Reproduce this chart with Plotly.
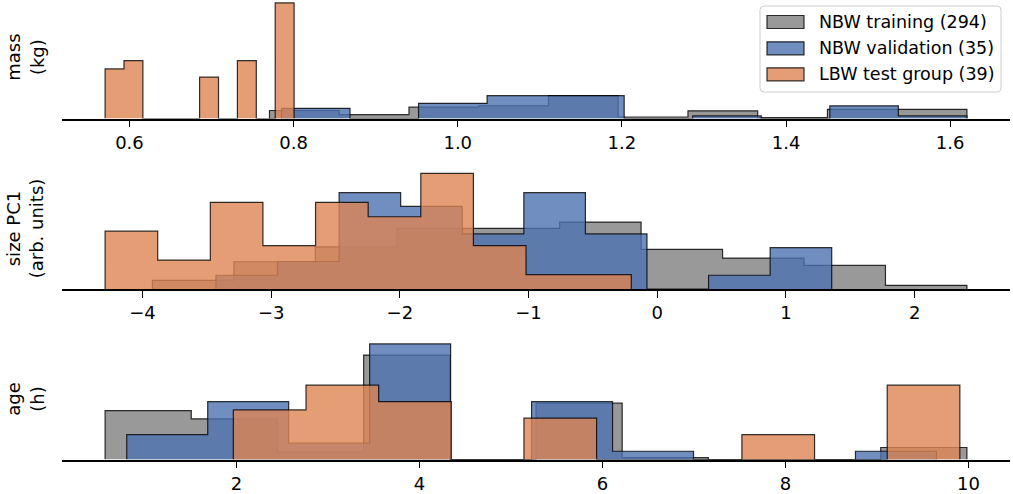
import numpy as np
import plotly.graph_objects as go

W, H = 1013, 494

# ---------------- data ----------------
series_names = ["NBW training (294)", "NBW validation (35)", "LBW test group (39)"]
series_n = [294, 35, 39]

# mass (kg): bin range (first edge, last edge) and counts per bin (10 bins)
mass_train_range = [0.7706, 1.6204]
mass_valid_range = [0.7852, 1.6204]
mass_lbw_range = [0.5703, 0.8006]
mass_train_counts = [27, 13, 38, 43, 77, 5, 26, 3, 31, 31]
mass_valid_counts = [4, 0, 6, 9, 9, 0, 1, 0, 5, 1]
mass_lbw_counts = [6, 7, 0, 0, 0, 5, 0, 7, 0, 14]

# size PC1 (arb. units)
size_train_range = [-3.9229, 2.4065]
size_valid_range = [-3.4291, 1.3559]
size_lbw_range = [-4.2905, -0.2017]
size_train_counts = [7, 22, 34, 49, 49, 54, 32, 25, 19, 3]
size_valid_counts = [1, 2, 7, 6, 4, 7, 4, 0, 1, 3]
size_lbw_counts = [4, 2, 6, 3, 6, 5, 8, 3, 1, 1]

# age (h)
age_train_range = [0.5657, 9.982]
age_valid_range = [0.8022, 9.649]
age_lbw_range = [1.967, 9.905]
age_train_counts = [53, 44, 8, 113, 0, 61, 2, 0, 0, 13]
age_valid_counts = [3, 7, 2, 14, 0, 7, 1, 0, 0, 1]
age_lbw_counts = [6, 9, 7, 0, 5, 0, 0, 3, 0, 9]

mass_ticks = [0.6, 0.8, 1.0, 1.2, 1.4, 1.6]
mass_ticktext = ["0.6", "0.8", "1.0", "1.2", "1.4", "1.6"]
size_ticks = [-4, -3, -2, -1, 0, 1, 2]
size_ticktext = ["\u22124", "\u22123", "\u22122", "\u22121", "0", "1", "2"]
age_ticks = [2, 4, 6, 8, 10]
age_ticktext = ["2", "4", "6", "8", "10"]

panel_titles = ["mass<br>(kg)", "size PC1<br>(arb. units)", "age<br>(h)"]

# ---------------- style ----------------
FONT = "DejaVu Sans"
FS = 18
FS_LEG = 17.5
fill_colors = ["rgba(128,128,128,0.8)", "rgba(76,114,176,0.8)", "rgba(221,132,82,0.8)"]
edge_color = "rgba(0,0,0,0.8)"

panels = [
    dict(ranges=[mass_train_range, mass_valid_range, mass_lbw_range],
         counts=[mass_train_counts, mass_valid_counts, mass_lbw_counts],
         ticks=mass_ticks, ticktext=mass_ticktext, base_px=118.5),
    dict(ranges=[size_train_range, size_valid_range, size_lbw_range],
         counts=[size_train_counts, size_valid_counts, size_lbw_counts],
         ticks=size_ticks, ticktext=size_ticktext, base_px=289.0),
    dict(ranges=[age_train_range, age_valid_range, age_lbw_range],
         counts=[age_train_counts, age_valid_counts, age_lbw_counts],
         ticks=age_ticks, ticktext=age_ticktext, base_px=459.5),
]
AXES_H = 121.4
X0_PX, X1_PX = 62, 1010


def step_xy(rng, counts, n):
    edges = np.linspace(rng[0], rng[1], len(counts) + 1)
    width = edges[1] - edges[0]
    dens = np.asarray(counts, dtype=float) / (n * width)
    x = np.concatenate([[edges[0]], edges[:-1], [edges[-1]]])
    y = np.concatenate([[0.0], dens, [0.0]])
    return x, y, dens.max()


fig = go.Figure()
layout = dict()
for p, panel in enumerate(panels):
    k = "" if p == 0 else str(p + 1)
    maxd = 0
    for s in range(3):
        x, y, m = step_xy(panel["ranges"][s], panel["counts"][s], series_n[s])
        maxd = max(maxd, m)
        fig.add_trace(go.Scatter(
            x=x, y=y, mode="lines", line_shape="hv", fill="toself",
            fillcolor=fill_colors[s], line=dict(color=edge_color, width=1.2),
            xaxis="x" + k, yaxis="y" + k, showlegend=False, hoverinfo="skip"))
    lo = min(r[0] for r in panel["ranges"])
    hi = max(r[1] for r in panel["ranges"])
    pad = 0.05 * (hi - lo)
    base = panel["base_px"]
    top_px = max(base - AXES_H, 0.0)
    ytop = 1.05 * maxd * (base - top_px) / AXES_H
    layout["xaxis" + k] = dict(
        domain=[X0_PX / W, X1_PX / W], range=[lo - pad, hi + pad],
        anchor="y" + k, showline=True, linecolor="black", linewidth=1.6,
        showgrid=False, zeroline=False, ticks="outside", ticklen=7,
        tickwidth=1.4, tickcolor="black", tickvals=panel["ticks"],
        ticktext=panel["ticktext"], tickfont=dict(family=FONT, size=FS, color="black"),
        fixedrange=True)
    layout["yaxis" + k] = dict(
        domain=[1 - base / H, 1 - top_px / H], range=[0, ytop], anchor="x" + k,
        visible=False, fixedrange=True)
    fig.add_annotation(
        text=panel_titles[p], xref="paper", yref="paper", x=25 / W,
        y=1 - (base - AXES_H / 2) / H, textangle=-90, showarrow=False,
        xanchor="center", yanchor="middle",
        font=dict(family=FONT, size=FS, color="black"))

# ---------------- legend (manual) ----------------
shapes = []
lx0, lx1, ly0, ly1, rad = 760, 1001, 6, 92, 4


def px(xp):
    return xp / W


def py(yp):
    return 1 - yp / H


path = (f"M {px(lx0+rad)},{py(ly0)} L {px(lx1-rad)},{py(ly0)} "
        f"Q {px(lx1)},{py(ly0)} {px(lx1)},{py(ly0+rad)} "
        f"L {px(lx1)},{py(ly1-rad)} Q {px(lx1)},{py(ly1)} {px(lx1-rad)},{py(ly1)} "
        f"L {px(lx0+rad)},{py(ly1)} Q {px(lx0)},{py(ly1)} {px(lx0)},{py(ly1-rad)} "
        f"L {px(lx0)},{py(ly0+rad)} Q {px(lx0)},{py(ly0)} {px(lx0+rad)},{py(ly0)} Z")
shapes.append(dict(type="path", path=path, xref="paper", yref="paper",
                   fillcolor="rgba(255,255,255,0.8)",
                   line=dict(color="rgba(204,204,204,1)", width=1), layer="above"))
row_y = [22, 48.3, 74.3]
for s in range(3):
    shapes.append(dict(type="rect", xref="paper", yref="paper",
                       x0=px(767), x1=px(804), y0=py(row_y[s] - 6.5), y1=py(row_y[s] + 6.5),
                       fillcolor=fill_colors[s], line=dict(color=edge_color, width=1.2),
                       layer="above"))
    fig.add_annotation(text=series_names[s], xref="paper", yref="paper",
                       x=px(817), y=py(row_y[s]), xanchor="left", yanchor="middle",
                       showarrow=False, font=dict(family=FONT, size=FS_LEG, color="black"))

fig.update_layout(
    width=W, height=H, margin=dict(l=0, r=0, t=0, b=0),
    paper_bgcolor="white", plot_bgcolor="white", showlegend=False,
    shapes=shapes, font=dict(family=FONT, size=FS, color="black"), **layout)

fig.write_html("out.html", config={"displayModeBar": False},
               post_script="document.body.style.margin='0px';")
